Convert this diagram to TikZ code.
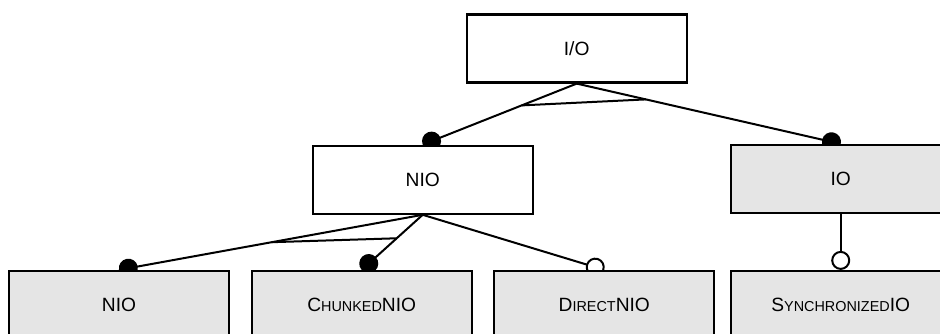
\documentclass[tikz,border=0pt]{standalone}
\usepackage{fontspec}
\setmainfont{Liberation Sans}
\usetikzlibrary{arrows.meta,backgrounds,calc}

\newcommand{\smallcap}[1]{{\fontsize{7.2pt}{8pt}\selectfont #1}}

\begin{document}
\begin{tikzpicture}[x=0.5pt,y=-0.5pt,
    feature/.style={draw,line width=1.1pt,minimum width=110pt,minimum height=34pt,inner sep=0pt,font=\fontsize{9.6pt}{11pt}\selectfont},
    concrete/.style={feature,fill=gray!20},
    abstract/.style={feature,fill=white},
    link/.style={line width=1pt},
    mandatory/.style={link,-{Circle[length=9.5pt]}},
    optional/.style={link,-{Circle[open,length=9.5pt]}}]
    \useasboundingbox (0,0) rectangle (940,333);

    % the features
    \node[abstract] (iotop) at (576.7,48.5) {I/O};
    \node[abstract] (nio) at (422.7,179.7) {NIO};
    \node[concrete] (io) at (840.7,179) {IO};
    \node[concrete] (niox) at (119,305) {NIO};
    \node[concrete] (chunked) at (361.7,305) {C\smallcap{HUNKED}NIO};
    \node[concrete] (direct) at (604.3,305) {D\smallcap{IRECT}NIO};
    \node[concrete] (sync) at (840.7,305) {S\smallcap{YNCHRONIZED}IO};

    % the links, behind the boxes
    \begin{scope}[on background layer]
        \draw[mandatory] (iotop.south) -- (nio.north);
        \draw[mandatory] (iotop.south) -- (io.north);
        \draw[mandatory] (nio.south) -- (niox.north);
        \draw[mandatory] (nio.south) -- (chunked.north);
        \draw[optional] (nio.south) -- (direct.north);
        \draw[optional] (io.south) -- (sync.north);

        % group lines
        \draw[link] ($(iotop.south)!0.357!(nio.north)$) -- ($(iotop.south)!0.262!(io.north)$);
        \draw[link] ($(nio.south)!0.497!(niox.north)$) -- ($(nio.south)!0.426!(chunked.north)$);
    \end{scope}
\end{tikzpicture}
\end{document}
